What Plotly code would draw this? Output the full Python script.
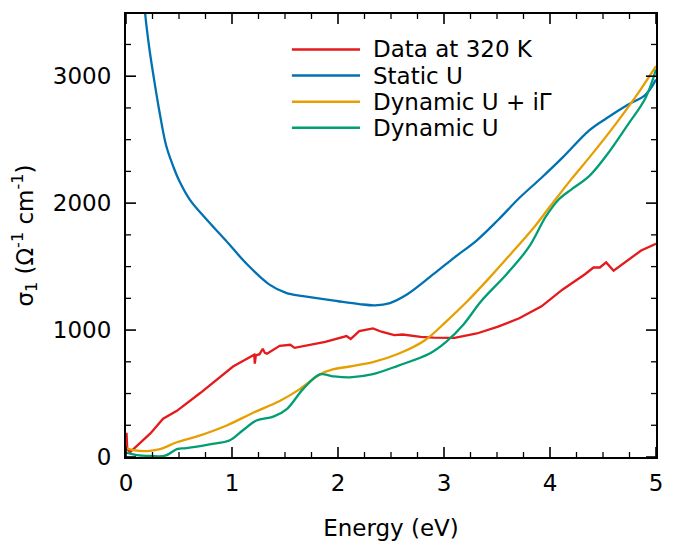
import plotly.graph_objects as go

# Data at 320 K (red)
e_data = [0.0, 0.005, 0.012, 0.04, 0.08, 0.23, 0.35, 0.48, 0.70, 0.86, 1.01, 1.12, 1.21, 1.215, 1.225, 1.26, 1.29, 1.31, 1.33, 1.45, 1.55, 1.59, 1.70, 1.88, 2.08, 2.12, 2.16, 2.2, 2.33, 2.41, 2.53, 2.61, 2.78, 2.9, 3.1, 3.31, 3.51, 3.71, 3.92, 4.12, 4.33, 4.41, 4.47, 4.53, 4.6, 4.69, 4.86, 5.0]
s_data = [60, 190, 60, 40, 70, 186, 302, 364, 504, 610, 713, 765, 806, 736, 800, 810, 853, 820, 814, 876, 884, 860, 878, 907, 953, 930, 960, 992, 1013, 987, 960, 965, 947, 940, 939, 973, 1027, 1093, 1187, 1320, 1440, 1493, 1493, 1533, 1467, 1520, 1627, 1680]

# Static U (blue)
e_static = [0.10, 0.14, 0.18, 0.22, 0.26, 0.32, 0.38, 0.45, 0.5, 0.6, 0.75, 0.94, 1.14, 1.35, 1.51, 1.67, 2.0, 2.2, 2.35, 2.49, 2.65, 2.9, 3.1, 3.31, 3.51, 3.71, 3.92, 4.12, 4.37, 4.53, 4.73, 4.9, 5.0]
s_static = [4600, 4000, 3500, 3220, 3000, 2700, 2450, 2280, 2180, 2030, 1880, 1707, 1520, 1360, 1293, 1267, 1227, 1205, 1195, 1213, 1280, 1440, 1573, 1707, 1867, 2040, 2200, 2360, 2573, 2667, 2773, 2853, 2973]

# Dynamic U + iΓ (orange)
e_dyn_g = [0.0, 0.07, 0.2, 0.32, 0.48, 0.7, 0.95, 1.2, 1.45, 1.64, 1.83, 1.95, 2.11, 2.33, 2.57, 2.82, 3.02, 3.22, 3.43, 3.63, 3.84, 4.0, 4.2, 4.41, 4.61, 4.82, 5.0]
s_dyn_g = [70, 54, 47, 62, 116, 170, 248, 349, 442, 535, 651, 690, 713, 747, 813, 920, 1067, 1227, 1413, 1600, 1800, 1973, 2187, 2400, 2613, 2853, 3080]

# Dynamic U (green)
e_dyn = [0.0, 0.1, 0.23, 0.37, 0.48, 0.57, 0.79, 0.98, 1.1, 1.23, 1.39, 1.52, 1.67, 1.83, 1.95, 2.11, 2.33, 2.57, 2.86, 3.02, 3.18, 3.35, 3.59, 3.8, 3.96, 4.08, 4.2, 4.37, 4.53, 4.73, 4.9, 5.0]
s_dyn = [35, 15, 8, 10, 62, 70, 100, 132, 209, 287, 318, 380, 535, 651, 636, 628, 653, 720, 813, 907, 1040, 1227, 1440, 1653, 1893, 2027, 2107, 2213, 2373, 2613, 2827, 3053]

series_names = ["Data at 320 K", "Static U", "Dynamic U + iΓ", "Dynamic U"]
series_colors = ["#e41a1c", "#0072b2", "#e69f00", "#009e73"]

x_ticks = [0, 1, 2, 3, 4, 5]
y_ticks = [0, 1000, 2000, 3000]
x_minor_ticks = [i * 0.25 for i in range(21) if i % 4 != 0]
y_minor_ticks = [i * 250 for i in range(14) if i % 4 != 0]
x_range = [0, 5]
y_range = [0, 3490]

FONT = "DejaVu Sans"
FS = 23

fig = go.Figure()
series = [(e_data, s_data, "linear"), (e_static, s_static, "spline"),
          (e_dyn_g, s_dyn_g, "spline"), (e_dyn, s_dyn, "spline")]
for (xs, ys, shp), name, col in zip(series, series_names, series_colors):
    fig.add_trace(go.Scatter(x=xs, y=ys, mode="lines", name=name, showlegend=False,
                             line=dict(color=col, width=2.3, shape=shp)))

# Custom legend (lines + text) placed in paper coordinates
leg_x0, leg_x1, leg_tx = 0.313, 0.4415, 0.462
leg_rows = [0.92, 0.861, 0.802, 0.743]
for name, col, yy in zip(series_names, series_colors, leg_rows):
    fig.add_shape(type="line", xref="paper", yref="paper", x0=leg_x0, x1=leg_x1, y0=yy, y1=yy,
                  line=dict(color=col, width=2.5))
    fig.add_annotation(xref="paper", yref="paper", x=leg_tx, y=yy, text=name, showarrow=False,
                       xanchor="left", yanchor="middle",
                       font=dict(family=FONT, size=FS, color="black"))

# Inward tick marks on all four sides, positioned through the axes' scales
MAJ, MIN = 10, 5
def x_tick(v, length, width):
    for anchor, sign in ((0, 1), (1, -1)):
        fig.add_shape(type="line", xref="x", x0=v, x1=v, yref="paper", ysizemode="pixel",
                      yanchor=anchor, y0=0, y1=sign * length,
                      line=dict(color="black", width=width))
def y_tick(v, length, width):
    for anchor, sign in ((0, 1), (1, -1)):
        fig.add_shape(type="line", yref="y", y0=v, y1=v, xref="paper", xsizemode="pixel",
                      xanchor=anchor, x0=0, x1=sign * length,
                      line=dict(color="black", width=width))
for v in x_ticks:
    x_tick(v, MAJ, 1.6)
for v in x_minor_ticks:
    x_tick(v, MIN, 1.3)
for v in y_ticks:
    y_tick(v, MAJ, 1.6)
for v in y_minor_ticks:
    y_tick(v, MIN, 1.3)

axis_style = dict(showline=True, linecolor="black", linewidth=2, mirror=True,
                  ticks="", showgrid=False, zeroline=False,
                  tickfont=dict(family=FONT, size=FS, color="black"))

fig.update_layout(
    width=670, height=533,
    margin=dict(l=118, r=22, t=4, b=77),
    paper_bgcolor="white", plot_bgcolor="white",
    font=dict(family=FONT, size=FS, color="black"),
    showlegend=False,
    xaxis=dict(range=x_range, tickmode="array", tickvals=x_ticks, ticklabelstandoff=4,
               title=dict(text="Energy (eV)", font=dict(family=FONT, size=FS, color="black"), standoff=25),
               **axis_style),
    yaxis=dict(range=y_range, tickmode="array", tickvals=y_ticks, ticklabelstandoff=8,
               title=dict(text="σ<sub>1</sub> (Ω<sup>-1</sup> cm<sup>-1</sup>)",
                          font=dict(family=FONT, size=FS, color="black"), standoff=14),
               **axis_style),
)

fig.write_html("out.html")
